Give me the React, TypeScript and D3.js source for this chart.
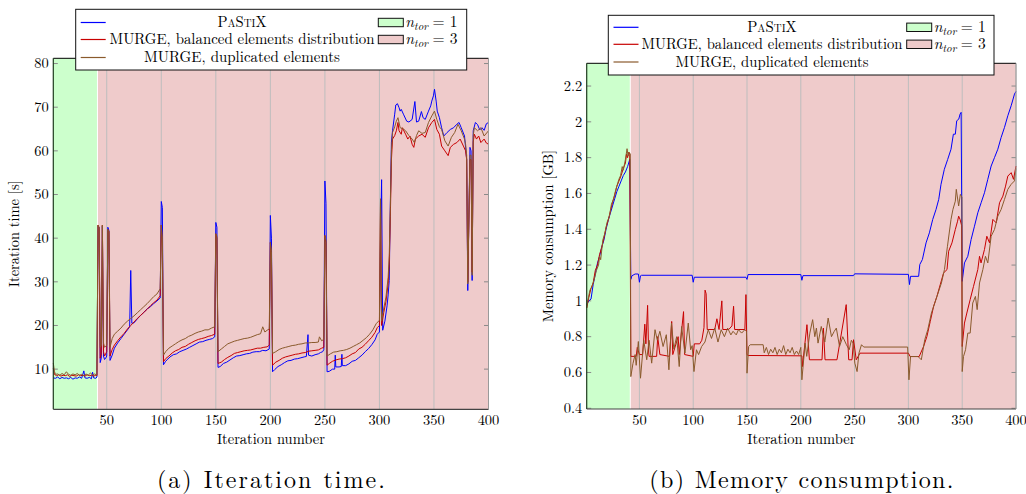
import React from "react";
import * as d3 from "d3";

type Pt = [number, number];

const xTicks = [50, 100, 150, 200, 250, 300, 350, 400];
const timeTicks = [10, 20, 30, 40, 50, 60, 70, 80];
const memTicks = [0.4, 0.6, 0.8, 1, 1.2, 1.4, 1.6, 1.8, 2, 2.2];
const seriesNames = ["PaStiX", "MURGE, balanced elements distribution", "MURGE, duplicated elements"];
const regionValues = [1, 3];
const ntorBoundary = 41.5;
const iterRange = [1, 400];

const timePastix: Pt[] = [[1,8.0],[3,7.9],[5,8.2],[7,7.8],[9,8.1],[11,7.9],[13,8.0],[15,7.8],[17,8.1],[19,7.7],[21,8.0],[23,7.9],[25,8.2],[27,7.9],[29,9.6],[30,8.0],[32,7.9],[34,8.1],[36,7.8],[37,9.3],[38,8.0],[40,7.9],[41,8.2],[42,42.8],[43,42.5],[44,11.5],[45,12.5],[46,42.8],[47,13],[48,12.2],[49,12.5],[50,13],[51,42.5],[52,41.8],[53,12],[55,13.2],[57,14.8],[60,16],[63,17],[66,18],[69,19],[71,19.7],[72,32.6],[73,20.5],[75,20.6],[78,21.5],[81,22.3],[84,23],[87,23.8],[90,24.3],[93,25],[96,25.6],[99,26.3],[100,48.4],[101,47],[102,11],[104,11.8],[106,12.3],[108,12.8],[111,13.3],[114,13.5],[117,14],[120,14.3],[123,14.6],[126,15],[129,15.4],[132,15.8],[135,16.2],[138,16.3],[141,16.6],[144,16.8],[147,17],[149,17.4],[150,43.6],[151,42.5],[152,10.4],[154,10.6],[157,11.3],[160,11.6],[163,12.1],[166,12.6],[169,13],[172,13.1],[175,13.3],[178,13.5],[181,13.6],[184,13.9],[187,14],[190,14],[193,14.3],[196,14.2],[199,14.6],[200,45.2],[201,40],[202,9.4],[204,9.9],[207,10.6],[210,11],[213,11.5],[216,11.9],[219,12],[222,12.3],[225,12.4],[228,12.6],[231,12.8],[233,12.9],[234.5,17.9],[235,13.2],[238,13],[241,13.3],[244,13.5],[246,13.8],[248,14],[249,14.5],[250,53.1],[251,48],[252,9.4],[254,9.5],[257,10],[259,10],[259.5,13.2],[260,10.5],[263,10.5],[265,10.6],[265.6,13.4],[266,10.8],[269,10.8],[272,11.2],[275,11.8],[278,12],[281,12.6],[284,13.2],[287,14],[290,14.7],[293,15.6],[296,16.7],[298,18],[300,18.5],[301,40],[302,53.4],[303,18.9],[305,21],[307,24.5],[308,27],[309,30.3],[310,48],[311,62],[312,64.6],[314,68.4],[315,70.5],[316.5,70.8],[318,69.9],[319,69.1],[320,69.5],[322,68.4],[325,66.8],[327,66.6],[330,67.2],[332.5,71.3],[334,66.6],[336,66.8],[338.5,69],[340,67.6],[342,67.2],[345,69.1],[347,70.3],[348,71.4],[349.5,72.6],[350.5,74.1],[352,71.4],[353,69.1],[355,67.6],[357,65.3],[359,63.4],[362,64.2],[365,64.9],[368,65.3],[371,66.1],[373,66.5],[375,65.3],[378,63.4],[379,60.8],[380,58],[381,28],[383,60.8],[384,60],[385,30.3],[386,64.6],[388,66.5],[390,66],[392,64.8],[394,65.3],[396,64.7],[398,66.2],[400,66.5]];

const timeBalanced: Pt[] = [[1,10.2],[2,8.8],[4,8.5],[6,8.7],[8,8.4],[10,8.6],[12,8.5],[14,8.7],[16,8.3],[18,8.6],[20,8.5],[22,8.4],[24,8.7],[26,8.5],[28,8.6],[30,8.4],[32,8.7],[34,8.5],[36,8.6],[38,8.4],[40,8.6],[41,8.5],[42,43],[43,42.3],[44,12.5],[45,13.5],[46,43],[47,14],[48,13],[50,14],[51,42],[52,41.5],[53,13],[55,14.5],[57,15.5],[60,16.5],[63,17.4],[66,18.2],[69,19.2],[72,20],[75,20.8],[78,21.6],[81,22.3],[84,23],[87,23.7],[90,24.5],[93,25.2],[96,25.8],[99,26.8],[100,43],[101,38.3],[102,11.7],[104,12.4],[107,13],[110,13.7],[113,14.2],[116,14.5],[119,15],[122,15.2],[125,15.7],[128,16.1],[131,16.5],[134,16.8],[137,17],[140,17.2],[143,17.5],[146,17.7],[149,18],[150,41],[151,40],[152,11.3],[155,11.6],[158,12.2],[161,12.7],[164,13.1],[167,13.6],[170,13.8],[173,14],[176,14.2],[179,14.3],[182,14.4],[185,14.6],[188,14.8],[191,14.8],[194,15],[197,15.1],[199,15.5],[200,39],[201,36],[202,10.9],[205,11.6],[208,12],[211,12.5],[214,12.8],[217,13],[220,13.2],[223,13.4],[226,13.5],[229,13.7],[232,13.8],[235,14.1],[238,14.2],[241,14.3],[244,14.4],[247,14.8],[249,15],[250,40.6],[251,39],[252,10.9],[254,11.3],[257,11.8],[260,12.1],[263,12.3],[266,12.4],[269,12.6],[272,13],[275,13.5],[278,13.8],[281,14.6],[284,15],[287,15.7],[290,16.5],[293,17.3],[296,18.4],[298,19.5],[300,20],[301,49],[302,20],[304,23],[306,25.5],[308,29.6],[309,34],[310,45],[311,58],[312,62.7],[314,63.5],[315.5,64.6],[317,66.5],[318,64.6],[320,63.8],[321,65.3],[324,63.8],[326,62.7],[328,63.4],[330,61.5],[331.5,60.8],[333,62.7],[336,63.4],[339,63.8],[342,63.1],[345,65.3],[348,66.5],[350.5,67.2],[352.6,64.9],[355,63.8],[357,61.1],[360,60],[363,58.9],[365,60.8],[368,61.5],[371,61.9],[374,62.7],[377,61.1],[379,60],[380,58],[381,29.9],[383,58],[384,58],[385,32.2],[386,62],[387,63.8],[389,62.7],[391,63.4],[393,61.9],[396,62.7],[398,61.8],[400,61.5]];

const timeDuplicated: Pt[] = [[1,11.4],[2,9.5],[3,8.8],[5,8.9],[7,8.6],[9,9],[11,8.7],[13,9.4],[15,8.8],[17,8.6],[19,8.9],[21,8.7],[23,9],[25,8.6],[27,8.8],[29,8.5],[31,8.9],[33,8.6],[35,9.1],[37,8.7],[39,8.9],[41,8.6],[42,43],[43,42.5],[44,15],[45,15.5],[46,43],[47,16],[48,15],[50,15.5],[51,42],[52,41.5],[53,15],[55,17],[57,18],[60,18.7],[63,19.4],[66,20.3],[69,21],[72,21.6],[75,22.2],[78,22.9],[81,23.6],[84,24.3],[87,25],[90,25.8],[93,26.6],[96,27.2],[99,28.4],[100,43],[101,40],[102,13.2],[104,14],[107,14.8],[110,15.3],[113,15.8],[116,16.3],[119,16.7],[122,17],[125,17.5],[128,17.8],[131,18.2],[134,18.5],[137,18.7],[140,19],[143,19],[146,19.4],[149,19.7],[150,41],[151,40.5],[152,14],[155,14.6],[158,15.2],[161,15.8],[164,16.1],[167,16.4],[170,16.6],[173,16.8],[176,17],[179,17.1],[182,17.3],[185,17.6],[188,17.9],[191,18.1],[193,19.7],[195,18.5],[197,18.9],[199,19.2],[200,39],[201,37],[202,13.6],[205,14],[208,14.5],[211,14.8],[214,15],[217,15.2],[220,15.4],[223,15.5],[226,15.7],[229,15.8],[232,16],[235,16],[238,16.1],[241,16.1],[244,16.2],[245,17.4],[247,16.5],[249,16.8],[250,40.6],[251,39.5],[252,13],[255,13.5],[258,13.9],[261,14],[264,14.2],[267,14.3],[270,14.5],[273,14.8],[276,15.2],[279,15.6],[282,16],[285,16.6],[288,17.2],[291,18],[294,19],[297,20.4],[300,21.2],[301,49],[302,21],[304,24],[306,26.5],[308,31],[309,36],[310,47],[311,60],[312,64.2],[314,65.5],[315.5,66.8],[317,67.6],[319,65.3],[322,65],[324,64.6],[327,63.5],[330,62.7],[332,61.9],[334,63.5],[336,64.6],[339,64],[342,64.2],[345,66.5],[348,68],[350.5,69.1],[352.6,67.2],[355,65.5],[357,64.9],[360,62.3],[363,61.1],[366,63.1],[369,64.2],[372,66.1],[375,64.6],[378,62.7],[379,61.5],[380,59],[381,29.5],[383,59],[384,59],[385,31.5],[386,63.5],[387,65.3],[390,64.6],[393,65.3],[396,63.4],[400,64.6]];

const memPastix: Pt[] = [[1,0.98],[3,1.0],[5,1.01],[7,1.09],[9,1.15],[11,1.21],[13,1.25],[15,1.3],[17,1.34],[19,1.4],[21,1.45],[23,1.49],[25,1.53],[27,1.57],[29,1.61],[31,1.64],[33,1.67],[35,1.7],[37,1.72],[39,1.75],[41,1.79],[42,1.12],[43,1.14],[46,1.15],[49,1.15],[50,1.104],[51,1.14],[52,1.143],[99,1.143],[100,1.104],[101,1.132],[149,1.132],[150,1.12],[151,1.147],[200,1.147],[201,1.115],[202,1.141],[249,1.141],[250,1.151],[300,1.148],[301,1.091],[302,1.137],[309.5,1.137],[310.6,1.203],[313,1.231],[316.4,1.324],[319.5,1.38],[322.6,1.455],[325.7,1.511],[328.2,1.567],[330.3,1.651],[333.4,1.735],[336.5,1.79],[339.6,1.847],[341.8,1.931],[343.6,1.931],[344.9,2.006],[346.8,2.015],[348,2.043],[349,2.053],[350,1.109],[352.1,1.212],[355.2,1.249],[358.3,1.343],[361.4,1.417],[364.5,1.492],[367.6,1.548],[370.7,1.604],[373.8,1.679],[376.9,1.753],[380,1.8],[383.1,1.847],[386.2,1.913],[389.3,1.969],[392.4,2.034],[395.5,2.09],[398.6,2.155],[400,2.17]];

const memBalanced: Pt[] = [[1,0.96],[3,1.02],[5,1.07],[7,1.1],[9,1.17],[11,1.2],[13,1.26],[15,1.3],[17,1.35],[19,1.41],[21,1.45],[23,1.5],[25,1.55],[27,1.59],[29,1.64],[31,1.67],[33,1.7],[35,1.74],[37,1.77],[38,1.82],[39,1.8],[40,1.83],[41,1.82],[42,0.69],[47,0.69],[48,0.74],[50,0.7],[53,0.7],[55,0.87],[56,0.76],[57.6,0.975],[58.5,0.72],[59,0.69],[66,0.69],[67,0.8],[69,0.7],[78,0.69],[80,0.885],[81,0.7],[86,0.8],[87,0.7],[91,0.94],[92,0.7],[100,0.69],[101,0.76],[106,0.76],[108,0.78],[110,0.85],[111,1.06],[112,1.04],[113,0.84],[120,0.84],[122,0.9],[124,0.84],[126.6,1.0],[127.5,0.84],[133,0.84],[136,0.86],[137.5,0.97],[138.5,0.84],[148,0.84],[149,1.035],[150,0.7],[151,0.695],[201,0.693],[201.5,0.633],[205.7,0.867],[208,0.671],[219.7,0.671],[221,0.848],[222.5,0.671],[233.6,0.671],[242.2,0.979],[244.5,0.671],[247.6,0.671],[249,0.783],[251.5,0.671],[255,0.708],[300,0.708],[301.6,0.689],[310,0.689],[314.1,0.745],[317.2,0.801],[320.3,0.885],[323.4,0.969],[326.5,1.025],[329.6,1.091],[332.7,1.156],[335.9,1.175],[337.4,1.277],[340.5,1.324],[343.6,1.399],[345.7,1.445],[346.7,1.473],[348,1.455],[349.5,1.42],[350,0.745],[352.1,0.876],[354.3,0.932],[357.4,1.007],[360.5,1.081],[364.5,1.175],[366.1,1.249],[367.5,1.212],[370.7,1.287],[372.9,1.361],[375.4,1.324],[378.5,1.455],[381.6,1.436],[384.7,1.548],[387.8,1.585],[390.3,1.641],[392.4,1.697],[395.5,1.716],[397.7,1.679],[400,1.753]];

const memDuplicated: Pt[] = [[1,0.96],[2,1.0],[4,1.06],[6,1.08],[8,1.12],[10,1.17],[12,1.2],[13,1.25],[14,1.23],[16,1.34],[18,1.38],[20,1.44],[22,1.47],[24,1.54],[26,1.57],[28,1.62],[29,1.64],[31,1.68],[32.5,1.7],[34,1.75],[35,1.73],[37,1.79],[38.5,1.85],[39.5,1.81],[40.5,1.83],[41.5,1.82],[42,0.577],[44,0.65],[46,0.7],[47,0.64],[49,0.773],[51,0.568],[54,0.78],[56.8,0.671],[59,0.78],[61.4,0.652],[64.5,0.839],[66.6,0.78],[69,0.83],[72,0.745],[75,0.811],[77.4,0.615],[79.8,0.876],[82,0.73],[84.6,0.8],[87,0.633],[89.2,0.857],[92.3,0.708],[95.4,0.876],[97.6,0.727],[99,0.75],[100.7,0.605],[103,0.727],[105,0.7],[107.8,0.745],[110.9,0.77],[114,0.839],[117,0.79],[120,0.848],[123,0.77],[126,0.839],[129,0.8],[132,0.848],[135,0.81],[137,0.83],[140,0.81],[142,0.839],[145,0.82],[148,0.839],[149.5,0.83],[150,0.596],[151.5,0.745],[153,0.755],[165,0.755],[166,0.71],[168,0.74],[170,0.7],[172,0.73],[174,0.71],[176,0.74],[178,0.7],[180,0.73],[182,0.71],[184,0.75],[186,0.7],[188,0.73],[190,0.71],[192,0.74],[194,0.7],[196,0.72],[198,0.7],[200,0.74],[201,0.559],[204,0.764],[205.5,0.69],[208.4,0.82],[211,0.895],[213,0.8],[214.5,0.848],[216,0.764],[219,0.857],[222.3,0.77],[225.4,0.904],[228.5,0.8],[231,0.829],[233,0.848],[236,0.745],[239,0.8],[242.4,0.755],[245,0.727],[247,0.78],[248.6,0.764],[250.2,0.652],[252.3,0.605],[254,0.708],[256.4,0.755],[258.5,0.742],[299.3,0.742],[300.5,0.559],[302,0.689],[309,0.689],[312,0.671],[315.2,0.783],[318,0.839],[321.4,0.932],[324.5,0.988],[327.6,1.044],[330.7,1.1],[333.5,1.175],[336.3,1.305],[339.6,1.455],[341.4,1.511],[343.6,1.557],[344.5,1.623],[346.7,1.53],[348.3,1.595],[349.7,1.58],[350,0.605],[351.2,0.689],[353.1,0.727],[355.2,0.82],[357.4,0.82],[359.8,0.988],[362.3,1.025],[363.9,0.951],[366.1,1.1],[369.2,1.175],[371.6,1.249],[373.8,1.212],[376.9,1.361],[380,1.399],[383.1,1.473],[386.2,1.511],[389.3,1.567],[392.4,1.623],[395.5,1.651],[398.6,1.67],[400,1.74]];

const COLORS = ["#0000ff", "#c80000", "#8a5a2c"];
const GREEN = "#ccffcc";
const PINK = "#efcbcb";
const FONT = "'Latin Modern Roman', 'CMU Serif', 'Liberation Serif', serif";

type LegendGeom = {
  x0: number; x1: number; y0: number; y1: number; rows: number[];
  lineX: number; textX: number; swX: number; widths: number[];
};

type PanelProps = {
  x0: number; x1: number; y0: number; y1: number;
  yDomain: [number, number];
  yTicks: number[];
  series: Pt[][];
  yLabel: string;
  caption: string;
  captionW: number;
  legend: LegendGeom;
};

function Legend({ lg }: { lg: LegendGeom }) {
  const { x0, x1, y0, y1, rows, lineX, textX, swX, widths } = lg;
  return (
    <g>
      <rect x={x0} y={y0} width={x1 - x0} height={y1 - y0} fill="#fff" stroke="#111" strokeWidth={1} />
      {seriesNames.map((n, i) => (
        <g key={n}>
          <line x1={lineX} x2={lineX + 25} y1={rows[i]} y2={rows[i]} stroke={COLORS[i]} strokeWidth={1.2} />
          <text x={textX} y={rows[i] + 4.8} textAnchor="middle" fontSize={15} fontFamily={FONT}
            textLength={widths[i]} lengthAdjust="spacingAndGlyphs"
            style={i === 0 ? { fontVariant: "small-caps" } : undefined}>{n}</text>
        </g>
      ))}
      {regionValues.map((v, i) => (
        <g key={v}>
          <rect x={swX} y={rows[i] - 4.2} width={25} height={8.4} fill={i === 0 ? GREEN : PINK} stroke="#111" strokeWidth={1} />
          <text x={swX + 27} y={rows[i] + 4.8} fontSize={15.5} fontFamily={FONT}>
            <tspan fontStyle="italic">n</tspan>
            <tspan fontStyle="italic" fontSize={11} dy={3}>tor</tspan>
            <tspan dy={-3} dx={4.5}>{`= ${v}`}</tspan>
          </text>
        </g>
      ))}
    </g>
  );
}

function Panel(p: PanelProps) {
  const x = d3.scaleLinear().domain(iterRange).range([p.x0, p.x1]);
  const y = d3.scaleLinear().domain(p.yDomain).range([p.y1, p.y0]);
  const line = d3.line<Pt>().x(d => x(d[0])).y(d => y(d[1]));
  const xb = x(ntorBoundary);
  const cx = (p.x0 + p.x1) / 2;
  return (
    <g>
      <rect x={p.x0} y={p.y0} width={xb - p.x0 - 0.5} height={p.y1 - p.y0} fill={GREEN} />
      <rect x={xb + 0.5} y={p.y0} width={p.x1 - xb - 0.5} height={p.y1 - p.y0} fill={PINK} />
      {xTicks.map(t => (
        <line key={t} x1={x(t)} x2={x(t)} y1={p.y0} y2={p.y1} stroke="#bdbdbd" strokeWidth={1} />
      ))}
      {p.yTicks.map(t => (
        <g key={t}>
          <line x1={p.x0} x2={p.x0 + 4.5} y1={y(t)} y2={y(t)} stroke="#8a8a8a" strokeWidth={1} />
          <line x1={p.x1 - 4.5} x2={p.x1} y1={y(t)} y2={y(t)} stroke="#8a8a8a" strokeWidth={1} />
          <text x={p.x0 - 4.5} y={y(t) + 4.8} textAnchor="end" fontSize={14.5} fontFamily={FONT}>{String(t)}</text>
        </g>
      ))}
      {p.series.map((s, i) => (
        <path key={i} d={line(s) || ""} fill="none" stroke={COLORS[i]} strokeWidth={1} strokeLinejoin="round" />
      ))}
      <line x1={p.x0} x2={p.x1} y1={p.y0} y2={p.y0} stroke="#000" strokeWidth={1} />
      <line x1={p.x0} x2={p.x0} y1={p.y0} y2={p.y1} stroke="#1d3a1d" strokeWidth={1.2} />
      <line x1={p.x0} x2={p.x1} y1={p.y1} y2={p.y1} stroke="#444" strokeWidth={1.2} />
      <line x1={p.x1} x2={p.x1} y1={p.y0} y2={p.y1} stroke="#9a9a9a" strokeWidth={1} />
      {xTicks.map(t => (
        <text key={t} x={x(t)} y={p.y1 + 16} textAnchor="middle" fontSize={14.5} fontFamily={FONT}>{t}</text>
      ))}
      <text x={cx} y={p.y1 + 35} textAnchor="middle" fontSize={14.5} fontFamily={FONT}>Iteration number</text>
      <text transform={`translate(${p.x0 - 34},${(p.y0 + p.y1) / 2}) rotate(-90)`} textAnchor="middle" fontSize={14.5} fontFamily={FONT}>{p.yLabel}</text>
      <text x={cx} y={487.5} textAnchor="middle" fontSize={24} fontFamily={FONT} textLength={p.captionW} lengthAdjust="spacing">{p.caption}</text>
      <Legend lg={p.legend} />
    </g>
  );
}

export default function App() {
  return (
    <svg width={1026} height={494} style={{ display: "block", position: "absolute", left: 0, top: 0, background: "#fff" }}>
      <Panel x0={53.3} x1={488.5} y0={58.3} y1={409.3} yDomain={[0.8, 81.2]} yTicks={timeTicks}
        series={[timePastix, timeBalanced, timeDuplicated]} yLabel="Iteration time [s]" caption="(a) Iteration time." captionW={228}
        legend={{ x0: 75.7, x1: 466.7, y0: 9.3, y1: 70, rows: [22.5, 39.5, 57.5], lineX: 80.7, textX: 242, swX: 378.3, widths: [49, 265, 196] }} />
      <Panel x0={586.7} x1={1016} y0={63.3} y1={409} yDomain={[0.396, 2.327]} yTicks={memTicks}
        series={[memPastix, memBalanced, memDuplicated]} yLabel="Memory consumption [GB]" caption="(b) Memory consumption." captionW={304}
        legend={{ x0: 608.3, x1: 994, y0: 15.3, y1: 75, rows: [27.3, 44.3, 62], lineX: 613.5, textX: 772, swX: 906.7, widths: [49.5, 261, 193] }} />
    </svg>
  );
}
